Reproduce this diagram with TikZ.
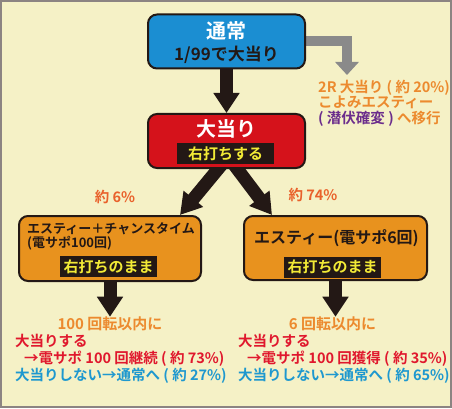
\documentclass[tikz,border=0pt]{standalone}
\usepackage{xcolor}
\usepackage{fontspec}
\setmainfont{Noto Sans CJK JP}[BoldFont={* Bold}]
\usepackage{tikz}
\usetikzlibrary{arrows.meta}
\usetikzlibrary{calc}
\definecolor{bgc}{HTML}{F5F1C6}
\definecolor{framec}{HTML}{8C8482}
\definecolor{darkc}{HTML}{231815}
\definecolor{bluec}{HTML}{1B8ED2}
\definecolor{redc}{HTML}{D5121B}
\definecolor{orangebox}{HTML}{E8921E}
\definecolor{greyc}{HTML}{8A8A8A}
\definecolor{yellowc}{HTML}{F2EA36}
\definecolor{orangec}{HTML}{EC8A2E}
\definecolor{rorangec}{HTML}{E9612B}
\definecolor{redtxt}{HTML}{E0182D}
\definecolor{bluetxt}{HTML}{1E98CF}
\definecolor{purplec}{HTML}{6B2D8C}
\newcommand{\vio}{\color{purplec}}
\newcommand{\rdt}{\color{redtxt}}
\newcommand{\bls}{\color{bluetxt}}
\pgfdeclarelayer{back}
\pgfsetlayers{back,main}

\begin{document}
\begin{tikzpicture}[x=1pt,y=-1pt,every node/.style={draw=none,inner sep=0pt,align=center,font=\bfseries},
stage/.style={draw=darkc,line width=2pt,rounded corners=9pt,inner sep=0pt},
shout/.style={fill=darkc,text=yellowc,minimum width=97pt,minimum height=21pt,font=\bfseries\fontsize{15}{15}\selectfont},
note/.style={font=\bfseries\fontsize{14.5}{17}\selectfont},
fat/.style={draw=darkc,line width=13pt,-{Triangle[length=20pt,width=25pt]}}]

\useasboundingbox (0,0) rectangle (452,409);

\draw node[stage,fill=bluec,minimum width=157pt,minimum height=54pt] at (226.5,41.5) (normal) {};
\draw node[text=white,font=\bfseries\fontsize{20}{20}\selectfont] at (226.5,31) (nt) {通常};
\draw node[text=darkc,font=\bfseries\fontsize{17}{17}\selectfont] at (226.5,55) (ns) {1/99で大当り};

\draw node[note,anchor=west,align=left,text=orangec,font=\bfseries\fontsize{14.5}{15.5}\selectfont] at (318,103) (lost) {2R 大当り ( 約 20\%)\\こよみエスティー\\{\vio ( 潜伏確変 )} へ移行};

\draw node[stage,fill=redc,minimum width=157pt,minimum height=54pt] at (226.5,141) (hit) {};
\draw node[text=white,font=\bfseries\fontsize{20}{20}\selectfont] at (226.5,129) (ht) {大当り};
\draw node[shout] at (225.5,153.5) (hs) {右打ちする};

\draw node[note,text=rorangec] at (115,197) (pl) {約 6\%};
\draw node[note,text=rorangec] at (313,195) (pr) {約 74\%};

\draw node[stage,fill=orangebox,minimum width=182pt,minimum height=65pt] at (110,248.5) (estc) {};
\draw node[anchor=west,align=left,text=darkc,font=\bfseries\fontsize{13}{13.5}\selectfont] at (27,236.5) (ect) {エスティー＋チャンスタイム\\(電サポ100回)};
\draw node[shout] at (108.5,266.5) (ecs) {右打ちのまま};

\draw node[stage,fill=orangebox,minimum width=183pt,minimum height=64pt] at (335.5,248) (est) {};
\draw node[text=darkc,font=\bfseries\fontsize{16}{16}\selectfont] at (336.5,238) (et) {エスティー(電サポ6回)};
\draw node[shout] at (332.5,267) (es) {右打ちのまま};

\draw node[text=orangec,font=\bfseries\fontsize{15}{15}\selectfont] at (110,324) (lw) {100 回転以内に};
\draw node[note,anchor=west,align=left,text=redtxt] at (15,359) (lres) {大当りする\\\hspace*{9pt}→電サポ 100 回継続 ( 約 73\%)\\{\bls 大当りしない→通常へ ( 約 27\%)}};

\draw node[text=orangec,font=\bfseries\fontsize{15}{15}\selectfont] at (332.5,324) (rw) {6 回転以内に};
\draw node[note,anchor=west,align=left,text=redtxt] at (238,359) (rres) {大当りする\\\hspace*{9pt}→電サポ 100 回獲得 ( 約 35\%)\\{\bls 大当りしない→通常へ ( 約 65\%)}};

\coordinate (gt) at (347,75);

\begin{pgfonlayer}{back}
\fill[white] (0,0) rectangle (452,409);
\draw[framec,line width=2pt,fill=bgc] (1,1) rectangle (451,407);
\draw[draw=greyc,line width=10pt,-{Triangle[length=13pt,width=23pt]}] (normal.east) -| (gt);
\draw[fat] (normal.south) -- (hit.north);
\draw[fat,-{Triangle[length=21pt,width=24pt]}] ($(hit.south)+(-1,-9)$) -- ($(estc.north east)+(-22,0)$);
\draw[fat,-{Triangle[length=21pt,width=24pt]}] ($(hit.south)+(4,-9)$) -- ($(est.north west)+(29,0)$);
\draw[fat] (estc.south) -- (estc.south |- lw.north);
\draw[fat] (est.south) -- (est.south |- rw.north);
\end{pgfonlayer}

\end{tikzpicture}
\end{document}
